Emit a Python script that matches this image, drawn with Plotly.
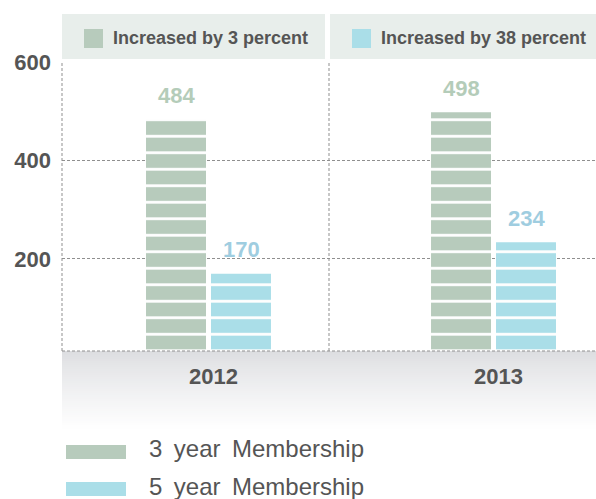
import plotly.graph_objects as go

# ---- data ----
years = ["2012", "2013"]
three_year = [484, 498]
five_year = [170, 234]
series_names = ["3 year Membership", "5 year Membership"]
header_texts = ["Increased by 3 percent", "Increased by 38 percent"]
y_ticks = [200, 400, 600]

# ---- style ----
GREEN = "#b7cbbc"
BLUE = "#aadee8"
GREEN_LBL = "#b4ccb9"
BLUE_LBL = "#9fcde0"
TXT = "#555555"
HEAD_BG = "#e8eeeb"
GRID = "#8f8f8f"
FONT = "Liberation Sans, Arial, sans-serif"

W, H = 596, 499
L, R, T, B = 62, 0, 62, 148
PW, PH = W - L - R, H - T - B


def px(p):
    return (p - L) / PW


def py(p):
    return (H - B - p) / PH


fig = go.Figure()
for name, vals, col in [(series_names[0], three_year, GREEN), (series_names[1], five_year, BLUE)]:
    fig.add_trace(go.Bar(
        x=years, y=vals, name=name,
        marker=dict(color=col, line=dict(width=0),
                    pattern=dict(shape="-", size=16.5, solidity=0.17,
                                 fgcolor="white", bgcolor=col, fgopacity=1)),
        showlegend=False, hoverinfo="x+y",
    ))

annotations = []
# value labels
for vals, col, shift in [(three_year, GREEN_LBL, -32.5), (five_year, BLUE_LBL, 32.5)]:
    for i, v in enumerate(vals):
        annotations.append(dict(x=i, y=v, xref="x", yref="y", text=str(v), showarrow=False,
                                xshift=shift, yshift=24, yanchor="middle",
                                font=dict(family=FONT, size=22, color=col, weight="bold")))
# year labels
for i, yr in enumerate(years):
    annotations.append(dict(x=i, y=py(376), xref="x", yref="paper", text=yr, showarrow=False,
                            xshift=5, yanchor="middle",
                            font=dict(family=FONT, size=22, color=TXT, weight="bold")))

shapes = []
# bottom gradient band
n = 40
top, bot = 351, 431
c0 = (220, 221, 224)
for i in range(n):
    f = (i / (n - 1)) ** 0.8
    c = tuple(int(round(c0[k] + (255 - c0[k]) * f)) for k in range(3))
    y0 = top + (bot - top) * i / n
    y1 = top + (bot - top) * (i + 1) / n
    shapes.append(dict(type="rect", xref="paper", yref="paper", x0=0, x1=1,
                       y0=py(y0), y1=py(y1 + 0.5), fillcolor="rgb(%d,%d,%d)" % c,
                       line=dict(width=0), layer="below"))
# dashed frame lines
dash = "3px,2px"
shapes.append(dict(type="line", xref="paper", yref="paper", x0=0, x1=1, y0=0, y1=0,
                   line=dict(color=GRID, width=1, dash=dash)))
for xv in [0, 0.5]:
    shapes.append(dict(type="line", xref="paper", yref="paper", x0=xv, x1=xv, y0=0, y1=1,
                       line=dict(color=GRID, width=1, dash=dash), layer="below"))

# header panels
panels = [(62, 325), (330, 596)]
for (x0, x1), txt, col in zip(panels, header_texts, [GREEN, BLUE]):
    shapes.append(dict(type="rect", xref="paper", yref="paper", x0=px(x0), x1=px(x1),
                       y0=py(59), y1=py(14), fillcolor=HEAD_BG, line=dict(width=0)))
    shapes.append(dict(type="rect", xref="paper", yref="paper", x0=px(x0 + 22), x1=px(x0 + 41),
                       y0=py(48), y1=py(29), fillcolor=col, line=dict(width=0)))
    annotations.append(dict(x=px(x0 + 49), y=py(38), xref="paper", yref="paper", text=txt,
                            showarrow=False, xanchor="left", yanchor="middle",
                            font=dict(family=FONT, size=18, color=TXT, weight="bold")))

# bottom legend
for name, col, yc in [(series_names[0], GREEN, 452), (series_names[1], BLUE, 489)]:
    shapes.append(dict(type="rect", xref="paper", yref="paper", x0=px(66), x1=px(126),
                       y0=py(yc + 7), y1=py(yc - 7), fillcolor=col, line=dict(width=0)))
    annotations.append(dict(x=px(147), y=py(yc - 3), xref="paper", yref="paper",
                            text=name.replace(" ", "&nbsp;\u2009"),
                            showarrow=False, xanchor="left", yanchor="middle",
                            font=dict(family=FONT, size=24, color=TXT)))

fig.update_layout(
    width=W, height=H,
    margin=dict(l=L, r=R, t=T, b=B, pad=0),
    paper_bgcolor="white", plot_bgcolor="rgba(0,0,0,0)",
    barmode="group", bargap=0.544, bargroupgap=0.0769,
    showlegend=False,
    shapes=shapes, annotations=annotations,
    xaxis=dict(type="category", range=[-0.514, 1.3596], showticklabels=False,
               showgrid=False, zeroline=False, showline=False, fixedrange=True),
    yaxis=dict(range=[13, 600], tickvals=y_ticks, ticktext=[str(v) for v in y_ticks],
               showgrid=True, gridcolor=GRID, griddash=dash, gridwidth=1,
               zeroline=False, showline=False, ticks="", ticklabelstandoff=10,
               tickfont=dict(family=FONT, size=22, color=TXT, weight="bold"),
               fixedrange=True),
)

fig.write_html("out.html")
